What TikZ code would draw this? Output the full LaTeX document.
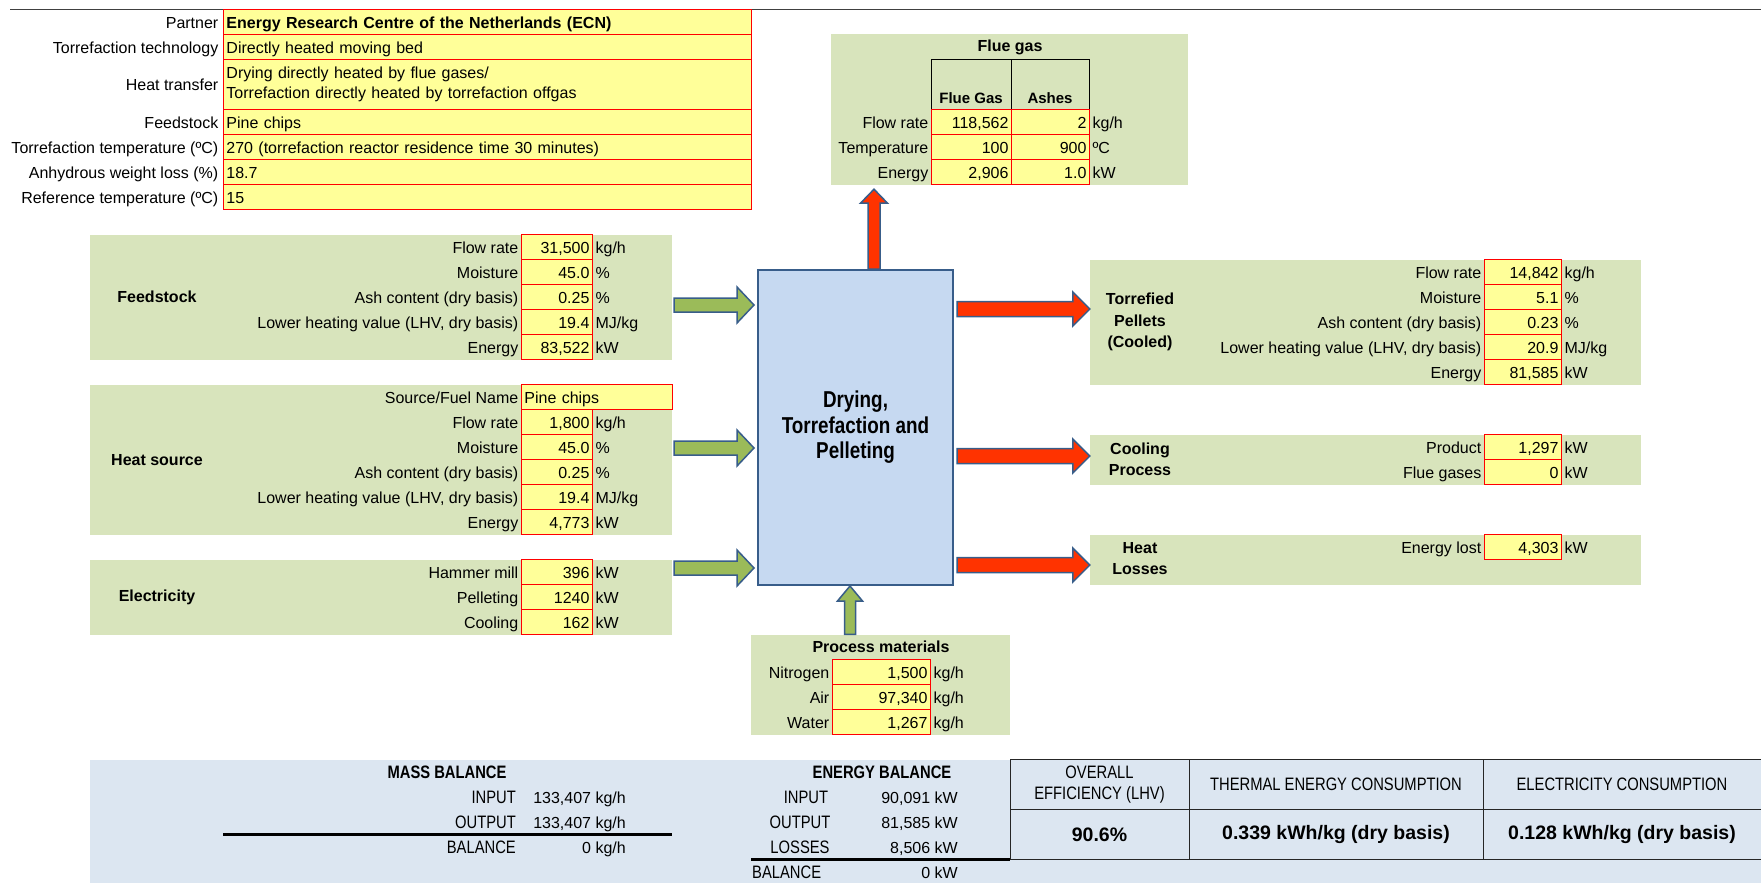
\documentclass[tikz,border=0pt]{standalone}
\usepackage{fontspec}
\setmainfont{Liberation Sans}
\newfontfamily\narrowf[FakeStretch=0.82]{Liberation Sans}
\usepackage{tikz}
\usetikzlibrary{calc}
\definecolor{panelgreen}{HTML}{D8E4BC}
\definecolor{cellyellow}{HTML}{FFFF99}
\definecolor{cellred}{HTML}{FF0000}
\definecolor{coreblue}{HTML}{C6D9F1}
\definecolor{edgeblue}{HTML}{385D8A}
\definecolor{arrowgreen}{HTML}{9BBB59}
\definecolor{arrowred}{HTML}{FF3300}
\definecolor{bandblue}{HTML}{DCE6F1}
\newcommand{\fs}{\fontsize{16}{19}\selectfont}
\newcommand{\fn}{\narrowf\fontsize{18}{21}\selectfont}
% one yellow value cell: name, left x, row y, width, value
\newcommand{\valcell}[5]{%
  \pgfmathsetmacro{\cellw}{#4-6}%
  \node[cell,minimum width=#4pt,text width=\cellw pt] (#1) at (#2,#3) {#5};}
% label | value | unit
\newcommand{\datarow}[7]{%
  \valcell{#1}{#2}{#3}{#4}{#6}
  \node[txt,anchor=east] (#1-l) at (#1.west) {#5};
  \node[txt,anchor=west] (#1-u) at (#1.east) {#7};}

\begin{document}
\begin{tikzpicture}[x=1pt,y=-1pt,
  txt/.style={font=\fs,text height=14.5pt,text depth=2pt,inner xsep=2.5pt,inner ysep=0pt},
  cell/.style={txt,draw=cellred,line width=0.9pt,fill=cellyellow,minimum height=25pt,inner xsep=3pt,align=right,anchor=west},
  info/.style={cell,align=left,text width=522pt},
  info2/.style={draw=cellred,line width=0.9pt,fill=cellyellow,font=\fontsize{16}{20}\selectfont,align=left,text width=522pt,inner xsep=3pt,minimum height=50pt,anchor=west},
  hdrcell/.style={draw=black,line width=1pt,minimum height=50pt,font=\fontsize{15}{18}\selectfont\bfseries,text height=41pt,text depth=4pt,inner sep=0pt},
  panel/.style={fill=panelgreen,inner sep=0pt},
  ttl/.style={font=\fontsize{16}{21.5}\selectfont\bfseries,align=center,inner sep=0pt},
  core/.style={draw=edgeblue,line width=2pt,fill=coreblue,font=\narrowf\fontsize{23}{25.5}\selectfont\bfseries,align=center},
  blockarrow/.style n args={3}{draw=edgeblue,line width=1.5pt,line join=miter,
    to path={let \p1=(\tikztostart),\p2=(\tikztotarget),\n1={atan2(\y2-(\y1),\x2-(\x1))} in
      ($(\p1)+(\n1+90:#1)$) -- ($(\p2)+(\n1+180:#3)+(\n1+90:#1)$) -- ($(\p2)+(\n1+180:#3)+(\n1+90:#2)$)
      -- (\p2) -- ($(\p2)+(\n1+180:#3)+(\n1-90:#2)$) -- ($(\p2)+(\n1+180:#3)+(\n1-90:#1)$)
      -- ($(\p1)+(\n1-90:#1)$) -- cycle}},
  garrow/.style={blockarrow={7pt}{18pt}{17pt},fill=arrowgreen},
  garrowv/.style={blockarrow={5.5pt}{12.5pt}{15pt},fill=arrowgreen},
  rarrow/.style={blockarrow={7.5pt}{17pt}{17pt},fill=arrowred},
  rarrowv/.style={blockarrow={6pt}{13.5pt}{14pt},fill=arrowred},
  bal/.style={font=\fn,text height=14.5pt,text depth=2pt,inner sep=0pt},
  balv/.style={bal,font=\fs},
  btab/.style={draw=black!85,line width=1pt,minimum height=50pt,font=\fn,align=center,inner sep=0pt},
  bval/.style={btab,font=\fontsize{19.5}{22}\selectfont\bfseries},
  rule/.style={draw=black,line width=2.5pt}]
\useasboundingbox (0,0) rectangle (1761,883);

% panels and main unit
\node[panel,fill=bandblue,minimum width=1671pt,minimum height=125.5pt] (band) at (925.5,822.25) {};
\node[panel,minimum width=357pt,minimum height=150pt] (flue) at (1009.5,109.5) {};
\node[panel,minimum width=582pt,minimum height=125pt] (feed) at (381,297) {};
\node[panel,minimum width=582pt,minimum height=150pt] (heat) at (381,459.5) {};
\node[panel,minimum width=582pt,minimum height=75pt] (elec) at (381,597) {};
\node[panel,minimum width=551pt,minimum height=125pt] (pel) at (1365.5,322) {};
\node[panel,minimum width=551pt,minimum height=50pt] (cool) at (1365.5,459.5) {};
\node[panel,minimum width=551pt,minimum height=50pt] (loss) at (1365.5,559.5) {};
\node[panel,minimum width=259pt,minimum height=100pt] (proc) at (880.5,684.5) {};
\node[core,minimum width=195pt,minimum height=315pt] (core) at (855.5,427.5) {Drying,\\Torrefaction and\\Pelleting};

% flows
\draw[garrow] ($(feed.east)+(2pt,-8pt)$) to ($(feed.east -| core.west)+(-3pt,-8pt)$);
\draw[garrow] ($(heat.east)+(2pt,11.5pt)$) to ($(heat.east -| core.west)+(-3pt,11.5pt)$);
\draw[garrow] ($(elec.east)+(2pt,29pt)$) to ($(elec.east -| core.west)+(-3pt,29pt)$);
\draw[garrowv] ($(proc.north)+(-30.5pt,0pt)$) to ($(core.south)+(-5.5pt,0pt)$);
\draw[rarrowv] ($(core.north)+(18.5pt,0pt)$) to ($(core.north |- flue.south)+(18.5pt,-4.5pt)$);
\draw[rarrow] ($(pel.west -| core.east)+(3pt,13pt)$) to ($(pel.west)+(0pt,13pt)$);
\draw[rarrow] ($(cool.west -| core.east)+(3pt,3.5pt)$) to ($(cool.west)+(0pt,3.5pt)$);
\draw[rarrow] ($(loss.west -| core.east)+(3pt,-5.5pt)$) to ($(loss.west)+(0pt,-5.5pt)$);

% header table
\draw[draw=black!75,line width=1.5pt] (10,9.5) -- (1761,9.5);
\node[txt,anchor=east] (partner-l) at (221,22) {Partner};
\node[info,font=\fs\bfseries] (partner) at (223,22) {Energy Research Centre of the Netherlands (ECN)};
\node[txt,anchor=east] (tech-l) at (221,47) {Torrefaction technology};
\node[info] (tech) at (223,47) {Directly heated moving bed};
\node[txt,anchor=east] (transfer-l) at (221,84.5) {Heat transfer};
\node[info2] (transfer) at (223,84.5) {Drying directly heated by flue gases/\\Torrefaction directly heated by torrefaction offgas};
\node[txt,anchor=east] (stock-l) at (221,122) {Feedstock};
\node[info] (stock) at (223,122) {Pine chips};
\node[txt,anchor=east] (ttemp-l) at (221,147) {Torrefaction temperature (ºC)};
\node[info] (ttemp) at (223,147) {270 (torrefaction reactor residence time 30 minutes)};
\node[txt,anchor=east] (wloss-l) at (221,172) {Anhydrous weight loss (\%)};
\node[info] (wloss) at (223,172) {18.7};
\node[txt,anchor=east] (rtemp-l) at (221,197) {Reference temperature (ºC)};
\node[info] (rtemp) at (223,197) {15};

% flue gas
\node[ttl] (flue-t) at (1010,47) {Flue gas};
\node[hdrcell,minimum width=80pt] (fgh1) at (971,84.5) {Flue Gas};
\node[hdrcell,minimum width=78pt] (fgh2) at (1050,84.5) {Ashes};
\valcell{fg1}{931}{122}{80}{118,562}
\node[txt,anchor=east] (fg1-l) at (fg1.west) {Flow rate};
\datarow{fa1}{1011}{122}{78}{}{2}{kg/h}
\valcell{fg2}{931}{147}{80}{100}
\node[txt,anchor=east] (fg2-l) at (fg2.west) {Temperature};
\datarow{fa2}{1011}{147}{78}{}{900}{ºC}
\valcell{fg3}{931}{172}{80}{2,906}
\node[txt,anchor=east] (fg3-l) at (fg3.west) {Energy};
\datarow{fa3}{1011}{172}{78}{}{1.0}{kW}

% feedstock
\node[ttl] (feed-t) at (157,297) {Feedstock};
\datarow{fs1}{521}{247}{71}{Flow rate}{31,500}{kg/h}
\datarow{fs2}{521}{272}{71}{Moisture}{45.0}{\%}
\datarow{fs3}{521}{297}{71}{Ash content (dry basis)}{0.25}{\%}
\datarow{fs4}{521}{322}{71}{Lower heating value (LHV, dry basis)}{19.4}{MJ/kg}
\datarow{fs5}{521}{347}{71}{Energy}{83,522}{kW}

% heat source
\node[ttl] (heat-t) at (157,460) {Heat source};
\node[cell,align=left,minimum width=151pt,text width=145pt] (hs0) at (521,397) {Pine chips};
\node[txt,anchor=east] (hs0-l) at (hs0.west) {Source/Fuel Name};
\datarow{hs1}{521}{422}{71}{Flow rate}{1,800}{kg/h}
\datarow{hs2}{521}{447}{71}{Moisture}{45.0}{\%}
\datarow{hs3}{521}{472}{71}{Ash content (dry basis)}{0.25}{\%}
\datarow{hs4}{521}{497}{71}{Lower heating value (LHV, dry basis)}{19.4}{MJ/kg}
\datarow{hs5}{521}{522}{71}{Energy}{4,773}{kW}

% electricity
\node[ttl] (elec-t) at (157,597) {Electricity};
\datarow{el1}{521}{572}{71}{Hammer mill}{396}{kW}
\datarow{el2}{521}{597}{71}{Pelleting}{1240}{kW}
\datarow{el3}{521}{622}{71}{Cooling}{162}{kW}

% process materials
\node[ttl] (proc-t) at (881,647) {Process materials};
\datarow{pm1}{832}{672}{98}{Nitrogen}{1,500}{kg/h}
\datarow{pm2}{832}{697}{98}{Air}{97,340}{kg/h}
\datarow{pm3}{832}{722}{98}{Water}{1,267}{kg/h}

% products
\node[ttl] (pel-t) at (1140,322) {Torrefied\\Pellets\\(Cooled)};
\datarow{tp1}{1484}{272}{77}{Flow rate}{14,842}{kg/h}
\datarow{tp2}{1484}{297}{77}{Moisture}{5.1}{\%}
\datarow{tp3}{1484}{322}{77}{Ash content (dry basis)}{0.23}{\%}
\datarow{tp4}{1484}{347}{77}{Lower heating value (LHV, dry basis)}{20.9}{MJ/kg}
\datarow{tp5}{1484}{372}{77}{Energy}{81,585}{kW}
\node[ttl] (cool-t) at (1140,459.5) {Cooling\\Process};
\datarow{cp1}{1484}{447}{77}{Product}{1,297}{kW}
\datarow{cp2}{1484}{472}{77}{Flue gases}{0}{kW}
\node[ttl] (loss-t) at (1140,558.5) {Heat\\Losses};
\datarow{hl1}{1484}{547}{77}{Energy lost}{4,303}{kW}

% mass balance
\node[bal,font=\fn\bfseries] (mass-t) at (447,772) {MASS BALANCE};
\node[bal,anchor=east] (min-l) at (516,797) {INPUT};
\node[balv,anchor=east] (min) at (626,797) {133,407 kg/h};
\node[bal,anchor=east] (mout-l) at (516,822) {OUTPUT};
\node[balv,anchor=east] (mout) at (626,822) {133,407 kg/h};
\draw[rule] (223,834.5) -- (672,834.5);
\node[bal,anchor=east] (mbal-l) at (516,847) {BALANCE};
\node[balv,anchor=east] (mbal) at (626,847) {0 kg/h};

% energy balance
\node[bal,font=\fn\bfseries] (en-t) at (882,772) {ENERGY BALANCE};
\node[bal] (ein-l) at (806,797) {INPUT};
\node[balv,anchor=east] (ein) at (958,797) {90,091 kW};
\node[bal] (eout-l) at (800,822) {OUTPUT};
\node[balv,anchor=east] (eout) at (958,822) {81,585 kW};
\node[bal] (elos-l) at (800,847) {LOSSES};
\node[balv,anchor=east] (elos) at (958,847) {8,506 kW};
\draw[rule] (751,859.5) -- (1010,859.5);
\node[bal,anchor=west] (ebal-l) at (752,872) {BALANCE};
\node[balv,anchor=east] (ebal) at (958,872) {0 kW};

% indicators
\node[btab,minimum width=179pt] (eff-h) at (1099.5,784.5) {OVERALL\\EFFICIENCY (LHV)};
\node[btab,minimum width=294pt] (therm-h) at (1336,784.5) {THERMAL ENERGY CONSUMPTION};
\node[btab,minimum width=278pt] (elc-h) at (1622,784.5) {ELECTRICITY CONSUMPTION};
\node[bval,minimum width=179pt] (eff) at (1099.5,834.5) {90.6\%};
\node[bval,minimum width=294pt] (therm) at (1336,834.5) {0.339 kWh/kg (dry basis)};
\node[bval,minimum width=278pt] (elc) at (1622,834.5) {0.128 kWh/kg (dry basis)};
\end{tikzpicture}
\end{document}
